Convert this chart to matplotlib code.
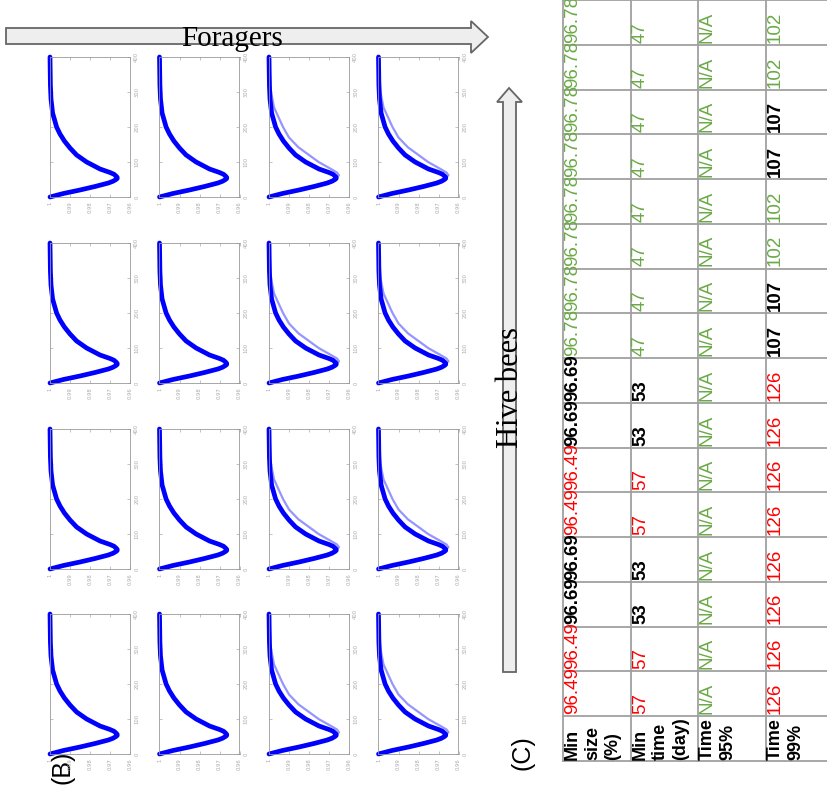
import matplotlib.pyplot as plt
from matplotlib.patches import Polygon

# (B) small panels: time (days) against colony size (fraction)
t_main = [0, 10, 20, 30, 40, 45, 50, 53, 56, 60, 65, 70, 80, 100, 120, 140, 160, 180, 200, 240, 280, 320, 400]
v_main = [1.0, 0.9933, 0.985, 0.9775, 0.9708, 0.9685, 0.967, 0.9664, 0.9664, 0.967, 0.968, 0.970, 0.975,
          0.9817, 0.9867, 0.990, 0.9928, 0.995, 0.9967, 0.9987, 0.9995, 0.9998, 1.0]
t_slow = [0, 20, 40, 50, 56, 62, 70, 80, 100, 120, 142, 170, 200, 256, 300, 400]
v_slow = [1.0, 0.986, 0.9725, 0.968, 0.9662, 0.965, 0.966, 0.969, 0.9752, 0.980, 0.9853, 0.990, 0.993,
          0.9975, 0.999, 1.0]
time_ticks = [0, 100, 200, 300, 400]
size_ticks = [1.0, 0.99, 0.98, 0.97, 0.96]
size_tick_labels = ["1", "0.99", "0.98", "0.97", "0.96"]
cols_with_slow = [2, 3]

# (C) table, rows listed from the bottom of the picture to the top
headers = ["Min\nsize\n(%)", "Min\ntime\n(day)", "Time\n95%", "Time\n99%"]
min_size = ["96.49", "96.49", "96.69", "96.69", "96.49", "96.49", "96.69", "96.69"] + ["96.78"] * 8
min_time = ["57", "57", "53", "53", "57", "57", "53", "53"] + ["47"] * 8
time95 = ["N/A"] * 16
time99 = ["126"] * 8 + ["107", "107", "102", "102", "107", "107", "102", "102"]
value_color = {"96.49": "red", "57": "red", "126": "red",
               "96.69": "black", "53": "black", "107": "black",
               "96.78": "#6aaa46", "47": "#6aaa46", "N/A": "#6aaa46", "102": "#6aaa46"}

W, H = 828, 790
fig = plt.figure(figsize=(W / 100, H / 100), dpi=100)
bg = fig.add_axes([0, 0, 1, 1])
bg.set_xlim(0, W)
bg.set_ylim(H, 0)
bg.axis("off")

# arrows
forager = [(6, 28), (471, 28), (471, 21), (488, 37), (471, 53), (471, 44), (6, 44)]
bg.add_patch(Polygon(forager, closed=True, fc="#eeeeee", ec="#666666", lw=1.3))
bg.text(232, 39, "Foragers", ha="center", va="center", fontsize=21, family="Liberation Serif")
hive = [(503, 672), (503, 102), (497, 102), (509, 88), (522, 102), (516, 102), (516, 672)]
bg.add_patch(Polygon(hive, closed=True, fc="#eeeeee", ec="#666666", lw=1.3))
bg.text(511, 388, "Hive bees", ha="center", va="center", rotation=90, fontsize=22, family="Liberation Serif")

bg.text(63, 767, "(B)", ha="center", va="center", rotation=90, fontsize=18, family="Liberation Sans")
bg.text(523, 753, "(C)", ha="center", va="center", rotation=90, fontsize=18, family="Liberation Sans")

# small panels
col_left = [50, 159.5, 269, 378.5]
row_top = [57, 243, 429, 614]
pw, ph = 80, 140
for r, top in enumerate(row_top):
    for c, left in enumerate(col_left):
        ax = fig.add_axes([left / W, 1 - (top + ph) / H, pw / W, ph / H])
        if c in cols_with_slow:
            ax.plot(v_slow, t_slow, color="#7b7bff", lw=1.6, alpha=0.8, clip_on=False)
        ax.plot(v_main, t_main, color="#0000ff", lw=3.4, solid_capstyle="round",
                solid_joinstyle="round", clip_on=False)
        ax.set_xlim(1.0, 0.96)
        ax.set_ylim(0, 400)
        ax.yaxis.tick_right()
        ax.set_yticks(time_ticks)
        ax.set_yticklabels([str(t) for t in time_ticks], rotation=90, va="center")
        ax.set_xticks(size_ticks)
        ax.set_xticklabels(size_tick_labels, rotation=90)
        ax.tick_params(direction="in", length=2, width=0.5, colors="#aaaaaa", labelsize=3.8, pad=3,
                       top=True, left=True, right=True, bottom=True)
        for s in ax.spines.values():
            s.set_color("#999999")
            s.set_linewidth(0.6)

# table
col_x = [563, 631, 698, 766, 834]
header_bottom = 761
row_h = 44.75
first_bottom = 716
for x in col_x:
    bg.plot([x, x], [0, header_bottom], color="#a0a0a0", lw=1.3)
bg.plot([col_x[0], W], [header_bottom, header_bottom], color="#a0a0a0", lw=1.3)
for i in range(17):
    y = first_bottom - i * row_h
    bg.plot([col_x[0], W], [y, y], color="#a0a0a0", lw=1.3)

for c, h in enumerate(headers):
    bg.text(col_x[c] + 1, header_bottom - 1, h, rotation=90, rotation_mode="anchor",
            ha="left", va="top", fontsize=13, fontweight="bold", linespacing=1.25,
            family="Liberation Sans")

for c, column in enumerate([min_size, min_time, time95, time99]):
    for i, val in enumerate(column):
        y = first_bottom - i * row_h - 2
        col = value_color[val]
        bg.text(col_x[c] + 1, y, val, rotation=90, rotation_mode="anchor", ha="left", va="top",
                fontsize=13.5, color=col, fontweight="bold" if col == "black" else "normal",
                family="Liberation Sans")

fig.savefig("out.png", dpi=100)
